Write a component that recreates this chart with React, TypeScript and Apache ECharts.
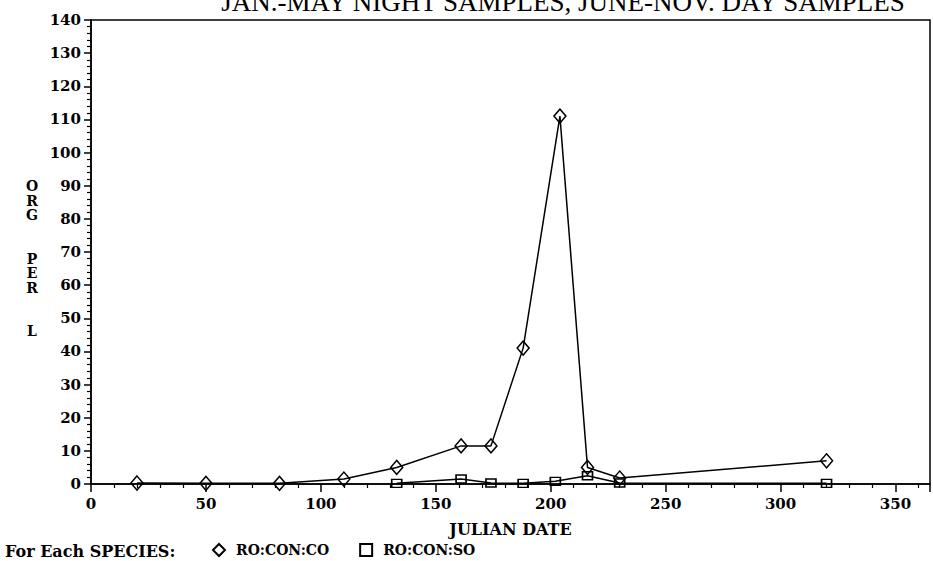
import React, { useEffect, useRef } from "react";
import * as echarts from "echarts";

const titleText = "JAN.-MAY NIGHT SAMPLES, JUNE-NOV. DAY SAMPLES";
const xName = "JULIAN DATE";
const yName = "O\nR\nG\n\n\nP\nE\nR\n\n\nL";
const legendPrefix = "For Each SPECIES:";
const seriesNames = ["RO:CON:CO", "RO:CON:SO"];

const coDays = [20, 50, 82, 110, 133, 161, 174, 188, 204, 216, 230, 320];
const coValues = [0.3, 0.2, 0.2, 1.5, 5, 11.5, 11.5, 41, 111, 5, 1.8, 7];

const soDays = [133, 161, 174, 188, 202, 216, 230, 320];
const soValues = [0.2, 1.5, 0.3, 0.2, 0.8, 2.5, 0.3, 0.2];

const xMin = 0;
const xMax = 365;
const xInterval = 50;
const yMin = 0;
const yMax = 140;
const yInterval = 10;

const serif = "DejaVu Serif";
const titleSerif = "Liberation Serif";

export default function App() {
  const ref = useRef<HTMLDivElement>(null);
  useEffect(() => {
    if (!ref.current) return;
    document.body.style.margin = "0";
    document.documentElement.style.overflow = "hidden";
    document.body.style.overflow = "hidden";
    const chart = echarts.init(ref.current, null, { renderer: "svg", width: 933, height: 561 });
    const zip = (xs: number[], ys: number[]) => xs.map((x, i) => [x, ys[i]]);
    chart.setOption({
      animation: false,
      backgroundColor: "#fff",
      grid: {
        left: 91,
        right: 3,
        top: 20,
        bottom: 77,
        show: true,
        borderColor: "#000",
        borderWidth: 1.5,
        containLabel: false,
      },
      graphic: [
        {
          type: "text",
          x: 563,
          y: 2,
          style: {
            text: titleText,
            font: `normal 27px ${titleSerif}`,
            fill: "#000",
            textAlign: "center",
            textVerticalAlign: "middle",
          },
        },
        {
          type: "text",
          x: 32,
          y: 179,
          style: {
            text: yName,
            font: `bold 14px ${serif}`,
            fill: "#000",
            textAlign: "center",
            lineHeight: 14.5,
          },
        },
        {
          type: "text",
          x: 5,
          y: 551,
          style: {
            text: legendPrefix,
            font: `bold 16px ${serif}`,
            fill: "#000",
            textVerticalAlign: "middle",
          },
        },
      ],
      legend: {
        left: 212,
        top: 543,
        padding: 0,
        itemGap: 30,
        itemWidth: 12,
        itemHeight: 12,
        textStyle: {
          fontFamily: serif,
          fontWeight: "bold",
          fontSize: 14,
          color: "#000",
          padding: [0, 0, 0, 6],
        },
        data: [
          { name: seriesNames[0], icon: "diamond" },
          { name: seriesNames[1], icon: "rect" },
        ],
      },
      xAxis: {
        type: "value",
        min: xMin,
        max: xMax,
        interval: xInterval,
        name: xName,
        nameLocation: "middle",
        nameGap: 37,
        nameTextStyle: { fontFamily: serif, fontWeight: "bold", fontSize: 16, color: "#000" },
        axisLine: { show: true, onZero: false, lineStyle: { color: "#000", width: 1.5 } },
        axisTick: { show: true, inside: false, length: 8, lineStyle: { color: "#000", width: 1.5 } },
        minorTick: { show: true, splitNumber: 5, length: 4, lineStyle: { color: "#000", width: 1.2 } },
        axisLabel: {
          margin: 12,
          showMaxLabel: false,
          fontFamily: serif,
          fontWeight: "bold",
          fontSize: 15,
          color: "#000",
        },
        splitLine: { show: false },
      },
      yAxis: {
        type: "value",
        min: yMin,
        max: yMax,
        interval: yInterval,
        axisLine: { show: true, lineStyle: { color: "#000", width: 1.5 } },
        axisTick: { show: true, inside: false, length: 7, lineStyle: { color: "#000", width: 1.5 } },
        minorTick: { show: true, splitNumber: 5, length: 4, lineStyle: { color: "#000", width: 1.2 } },
        axisLabel: { margin: 10, fontFamily: serif, fontWeight: "bold", fontSize: 15, color: "#000" },
        splitLine: { show: false },
      },
      series: [
        {
          name: seriesNames[0],
          type: "line",
          data: zip(coDays, coValues),
          symbol: "diamond",
          symbolSize: [12, 14],
          showAllSymbol: true,
          lineStyle: { color: "#000", width: 1.5 },
          itemStyle: { color: "transparent", borderColor: "#000", borderWidth: 1.5 },
          z: 3,
        },
        {
          name: seriesNames[1],
          type: "line",
          data: zip(soDays, soValues),
          symbol: "rect",
          symbolSize: [10, 8],
          showAllSymbol: true,
          lineStyle: { color: "#000", width: 1.5 },
          itemStyle: { color: "transparent", borderColor: "#000", borderWidth: 1.5 },
          z: 2,
        },
      ],
    });
    return () => chart.dispose();
  }, []);
  return <div ref={ref} style={{ width: 933, height: 561, position: "absolute", left: 0, top: 0 }} />;
}
